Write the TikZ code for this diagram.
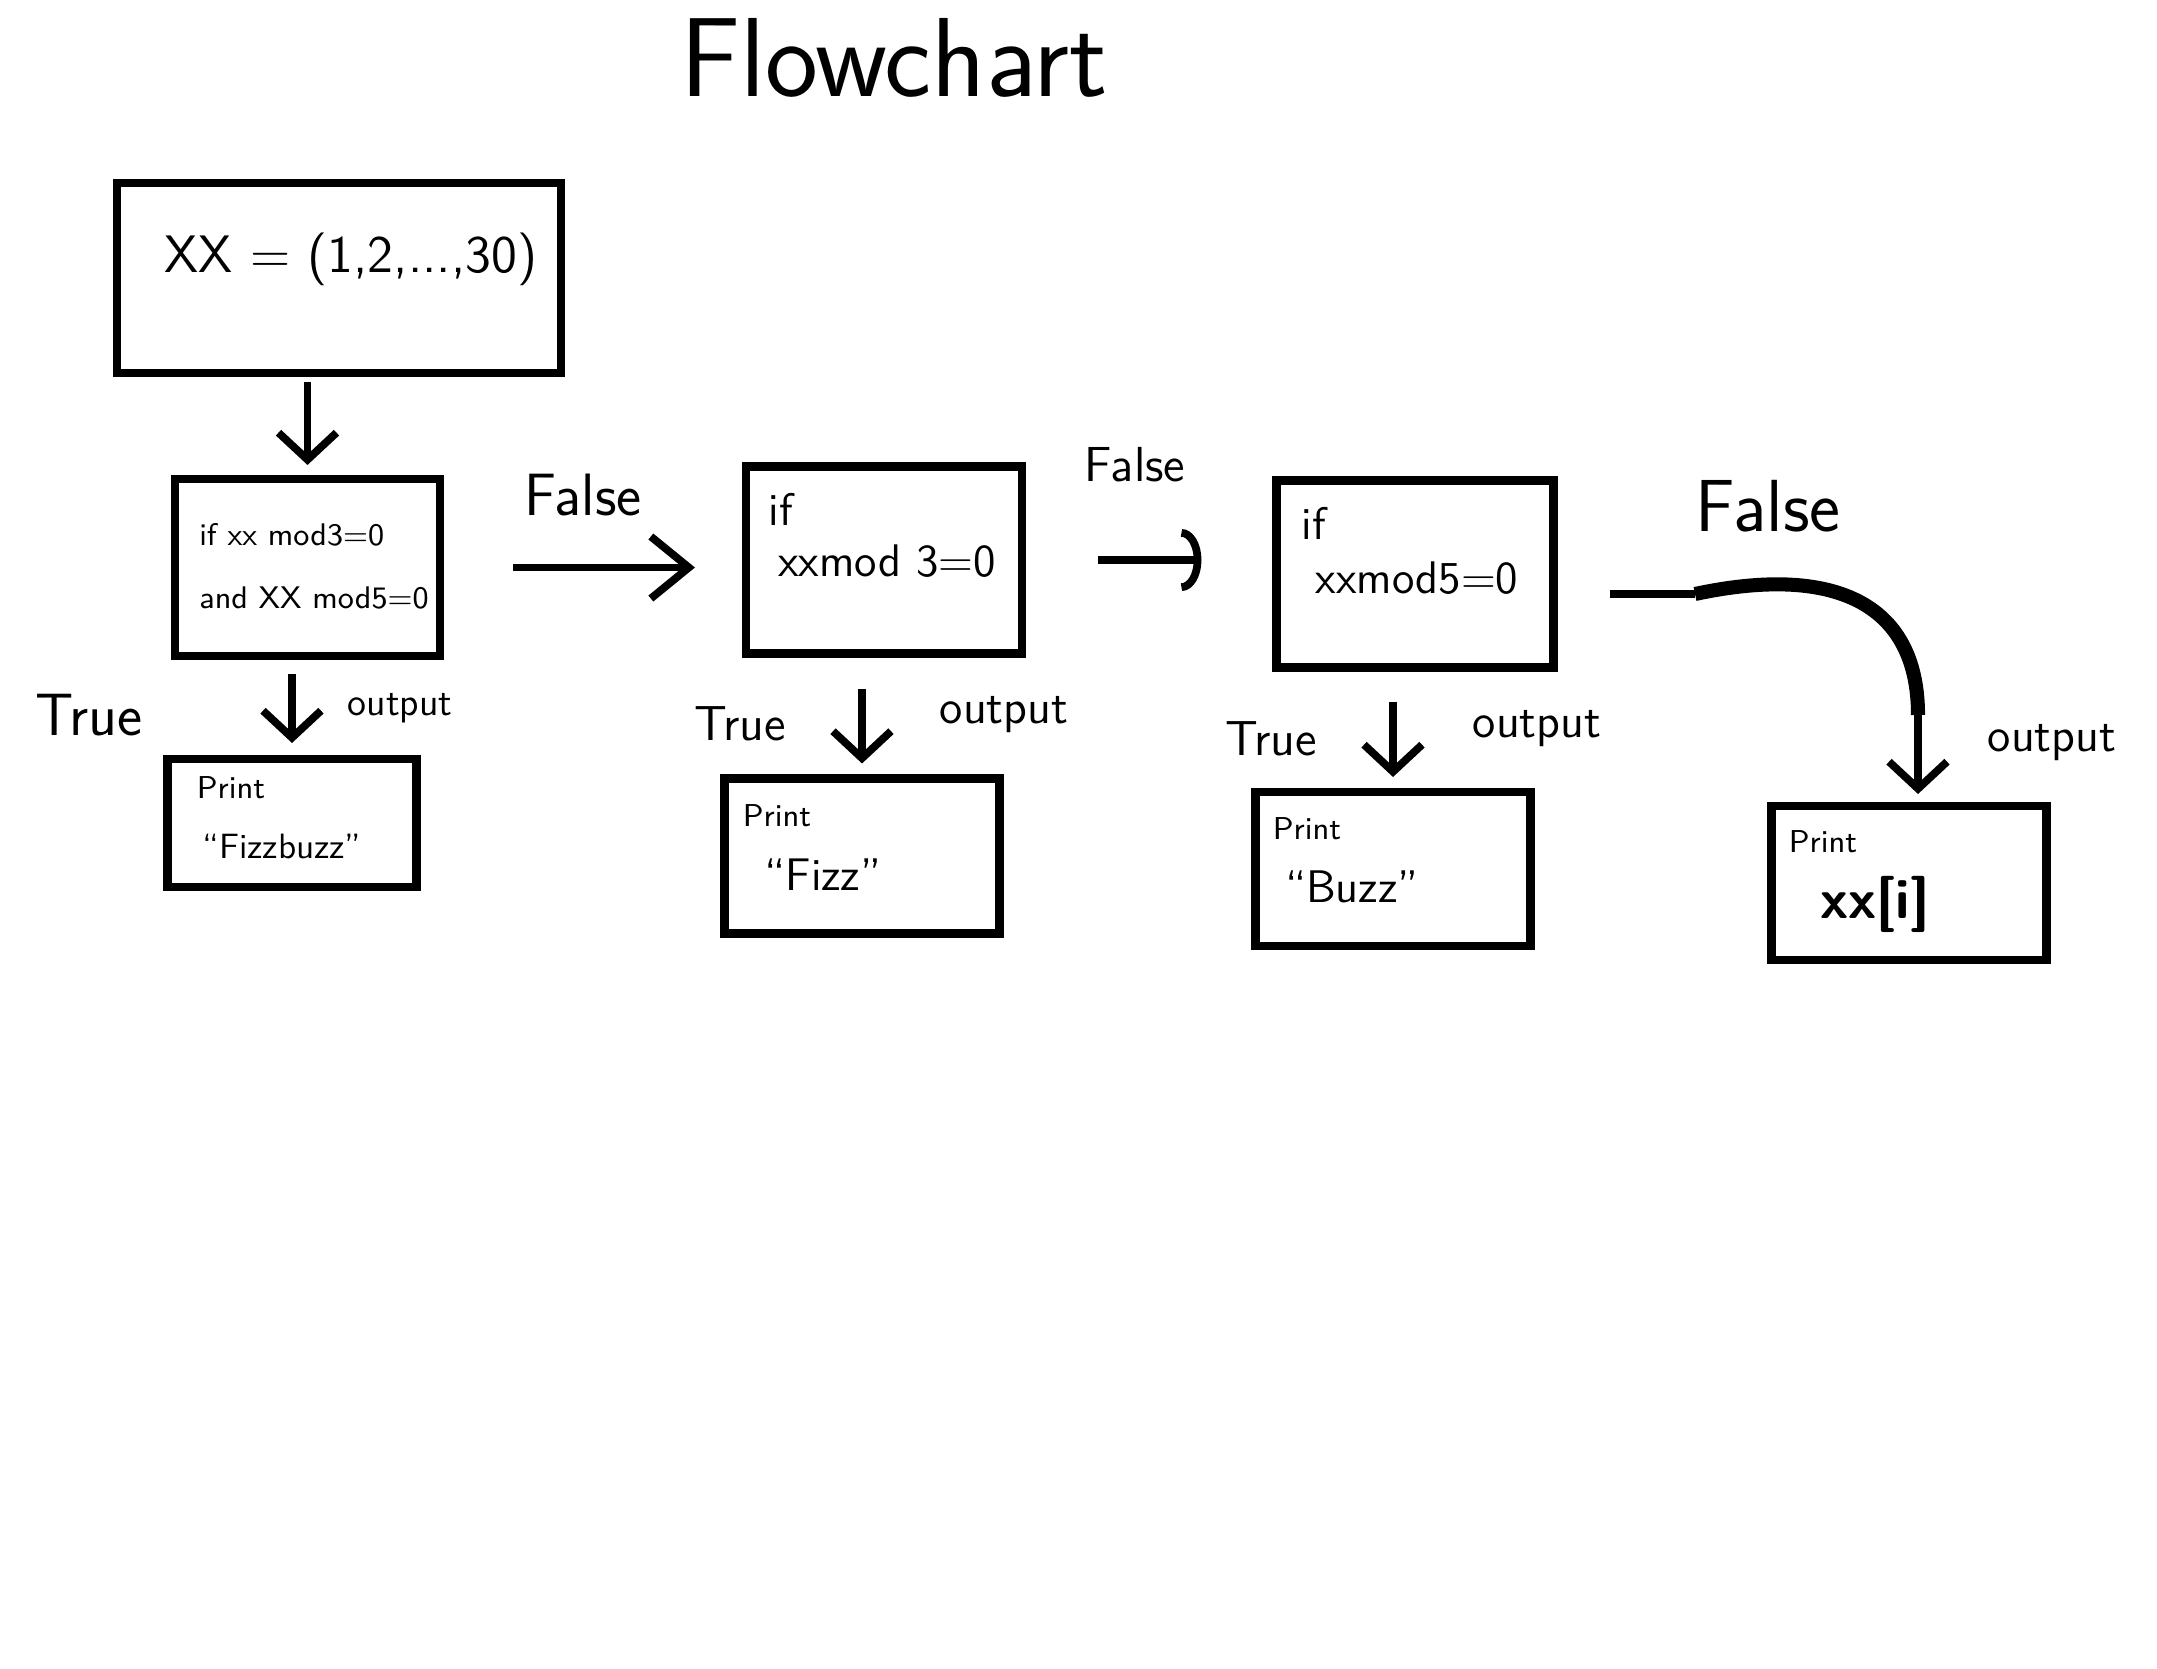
\documentclass[tikz,border=0pt]{standalone}
\usetikzlibrary{arrows.meta}

\begin{document}
\begin{tikzpicture}
	\tikzstyle{every node}=[font=\sffamily, inner sep=1pt]
	\tikzstyle{box}=[draw, line width=2.3pt, minimum width=2.75cm, minimum height=1.54cm, inner sep=0pt]
	\tikzstyle{flow}=[line width=2.2pt, -{Straight Barb[length=0.27cm, width=0.58cm]}]

	% page
	\useasboundingbox (0, 0) rectangle (21.57, -16.68);

	% title
	\node[font=\sffamily\fontsize{32}{38}\selectfont](Title) at (8.94, -0.58) {Flowchart};

	% input
	\node[box, minimum width=4.44cm, minimum height=1.90cm](Input) at (3.39, -2.78) {};
	\node[font=\sffamily\fontsize{15}{18}\selectfont](Input_Text) at (3.51, -2.59) {XX = (1,2,...,30)};

	% check mod 3 and mod 5
	\node[box, minimum width=2.65cm, minimum height=1.77cm](Check_Both) at (3.075, -5.675) {};
	\node[font=\sffamily\fontsize{8.9}{18}\selectfont, align=left](Check_Both_Text) at (3.14, -5.66) {if xx mod3=0\\and XX mod5=0};

	% print fizzbuzz
	\node[box, minimum width=2.49cm, minimum height=1.28cm](Print_FB) at (2.92, -8.23) {};
	\node[font=\sffamily\fontsize{9}{11}\selectfont](Print_FB_Label) at (2.31, -7.88) {Print};
	\node[font=\sffamily\fontsize{10}{12}\selectfont](Print_FB_Text) at (2.82, -8.46) {``Fizzbuzz''};

	% check mod 3
	\node[box, minimum width=2.76cm, minimum height=1.87cm](Check_3) at (8.84, -5.60) {};
	\node[font=\sffamily\fontsize{13}{16}\selectfont](Check_3_If) at (7.81, -5.09) {if};
	\node[font=\sffamily\fontsize{13}{16}\selectfont](Check_3_Text) at (8.87, -5.61) {xxmod 3=0};

	% print fizz
	\node[box, minimum width=2.75cm, minimum height=1.55cm](Print_F) at (8.62, -8.56) {};
	\node[font=\sffamily\fontsize{9}{11}\selectfont](Print_F_Label) at (7.77, -8.16) {Print};
	\node[font=\sffamily\fontsize{13}{16}\selectfont](Print_F_Text) at (8.23, -8.75) {``Fizz''};

	% check mod 5
	\node[box, minimum width=2.77cm, minimum height=1.87cm](Check_5) at (14.15, -5.74) {};
	\node[font=\sffamily\fontsize{13}{16}\selectfont](Check_5_If) at (13.14, -5.23) {if};
	\node[font=\sffamily\fontsize{13}{16}\selectfont](Check_5_Text) at (14.17, -5.78) {xxmod5=0};

	% print buzz
	\node[box](Print_B) at (13.93, -8.69) {};
	\node[font=\sffamily\fontsize{9}{11}\selectfont](Print_B_Label) at (13.07, -8.29) {Print};
	\node[font=\sffamily\fontsize{13}{16}\selectfont](Print_B_Text) at (13.52, -8.87) {``Buzz''};

	% print number
	\node[box](Print_N) at (19.09, -8.83) {};
	\node[font=\sffamily\fontsize{9}{11}\selectfont](Print_N_Label) at (18.23, -8.42) {Print};
	\node[font=\sffamily\bfseries\fontsize{16}{19}\selectfont](Print_N_Text) at (18.75, -9.04) {xx[i]};

	% labels
	\node[font=\sffamily\fontsize{17}{20}\selectfont](True_1) at (0.89, -7.15) {True};
	\node[font=\sffamily\fontsize{11}{13}\selectfont](Output_1) at (4.00, -7.08) {output};
	\node[font=\sffamily\fontsize{17}{20}\selectfont](False_1) at (5.83, -4.95) {False};
	\node[font=\sffamily\fontsize{14}{17}\selectfont](True_2) at (7.40, -7.24) {True};
	\node[font=\sffamily\fontsize{13.5}{16}\selectfont](Output_2) at (10.04, -7.15) {output};
	\node[font=\sffamily\fontsize{14}{17}\selectfont](False_2) at (11.35, -4.65) {False};
	\node[font=\sffamily\fontsize{14}{17}\selectfont](True_3) at (12.71, -7.39) {True};
	\node[font=\sffamily\fontsize{13.5}{16}\selectfont](Output_3) at (15.37, -7.29) {output};
	\node[font=\sffamily\fontsize{21}{25}\selectfont](False_3) at (17.68, -5.06) {False};
	\node[font=\sffamily\fontsize{13.5}{16}\selectfont](Output_4) at (20.52, -7.43) {output};

	% arrows
	% input - check both
	\draw[flow, shorten <=0.05cm, shorten >=0.1cm](Check_Both.north |- Input.south)--(Check_Both.north);
	% check both - print fizzbuzz
	\draw[flow, shorten <=0.14cm, shorten >=0.12cm](Print_FB.north |- Check_Both.south)--(Print_FB.north);
	% check both - check 3
	\draw[line width=2.2pt, -{Straight Barb[length=0.38cm, width=0.62cm]}, shorten <=0.69cm, shorten >=0.47cm](Check_Both.east)--(Check_Both.east -| Check_3.west);
	% check 3 - print fizz
	\draw[flow, shorten <=0.31cm, shorten >=0.11cm](Print_F.north |- Check_3.south)--(Print_F.north);
	% check 3 - check 5
	\draw[line width=2.2pt, -{Arc Barb[length=0.2cm, width=0.62cm]}, shorten <=0.72cm, shorten >=0.71cm](Check_3.east)--(Check_3.east -| Check_5.west);
	% check 5 - print buzz
	\draw[flow, shorten <=0.30cm, shorten >=0.11cm](Print_B.north |- Check_5.south)--(Print_B.north);
	% check 5 - print number
	\coordinate (Bend) at (16.95, -5.94);
	\coordinate (Drop) at (19.18, -7.15);
	\draw[line width=2.2pt, shorten <=0.52cm](Check_5.east |- Bend)--(Bend);
	\draw[line width=4pt](Bend) .. controls (18.3, -5.65) and (19.18, -6.0) .. (Drop);
	\draw[flow, shorten >=0.08cm](Drop)--(Drop |- Print_N.north);
\end{tikzpicture}
\end{document}
